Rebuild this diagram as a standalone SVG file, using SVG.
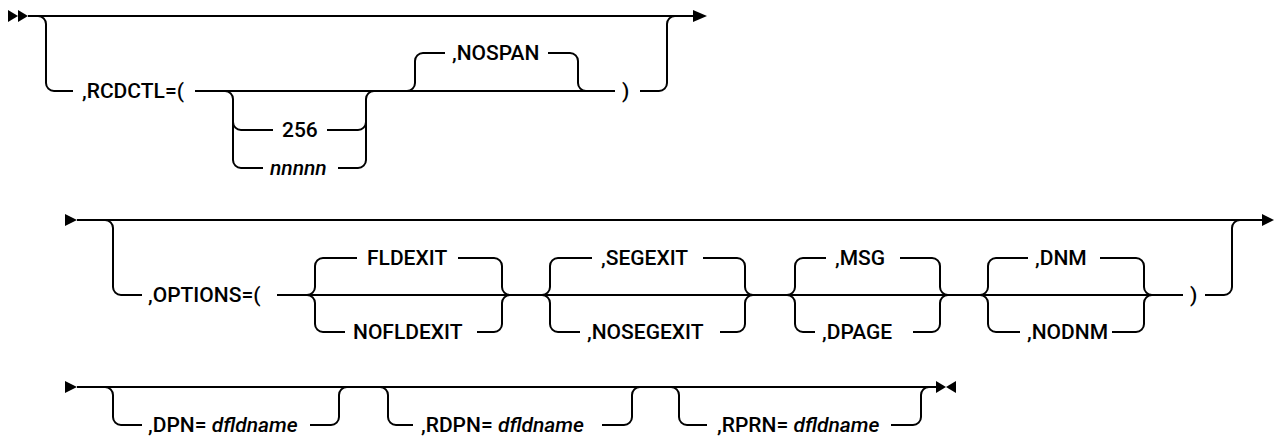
<svg xmlns="http://www.w3.org/2000/svg" width="1279" height="441" viewBox="0 0 1279 441">
<style>
.t{font-family:Roboto,"Liberation Sans",Arial,sans-serif;font-size:21px;font-weight:500;fill:#000}
.i{font-style:italic}
.ln{fill:none;stroke:#000;stroke-width:2}
.ar{fill:#000}
</style>
<rect width="1279" height="441" fill="#fff"/>
<g id="connectors">
<!-- row 1 -->
<path class="ln" d="M28,16 H693"/>
<path class="ln" d="M38,16 a8,8 0 0 1 8,8 V83 a8,8 0 0 0 8,8 H73"/>
<path class="ln" d="M195,91 H615"/>
<path class="ln" d="M225,91 a8,8 0 0 1 8,8 V122 a8,8 0 0 0 8,8 H273"/>
<path class="ln" d="M233,122 V160 a8,8 0 0 0 8,8 H263"/>
<path class="ln" d="M327,130 H358 a8,8 0 0 0 8,-8 V99 a8,8 0 0 1 8,-8"/>
<path class="ln" d="M338,168 H358 a8,8 0 0 0 8,-8 V122"/>
<path class="ln" d="M407,91 a8,8 0 0 0 8,-8 V61 a8,8 0 0 1 8,-8 H445"/>
<path class="ln" d="M548,53 H570 a8,8 0 0 1 8,8 V83 a8,8 0 0 0 8,8"/>
<path class="ln" d="M640,91 H659 a8,8 0 0 0 8,-8 V24 a8,8 0 0 1 8,-8"/>
<!-- row 2 -->
<path class="ln" d="M77,220 H1262"/>
<path class="ln" d="M105,220 a8,8 0 0 1 8,8 V287 a8,8 0 0 0 8,8 H142"/>
<path class="ln" d="M277,295 H1183"/>
<path class="ln" d="M307,295 a8,8 0 0 0 8,-8 V266 a8,8 0 0 1 8,-8 H357"/>
<path class="ln" d="M458,258 H494 a8,8 0 0 1 8,8 V287 a8,8 0 0 0 8,8"/>
<path class="ln" d="M307,295 a8,8 0 0 1 8,8 V324 a8,8 0 0 0 8,8 H345"/>
<path class="ln" d="M477,332 H494 a8,8 0 0 0 8,-8 V303 a8,8 0 0 1 8,-8"/>
<path class="ln" d="M542,295 a8,8 0 0 0 8,-8 V266 a8,8 0 0 1 8,-8 H592"/>
<path class="ln" d="M703,258 H737 a8,8 0 0 1 8,8 V287 a8,8 0 0 0 8,8"/>
<path class="ln" d="M542,295 a8,8 0 0 1 8,8 V324 a8,8 0 0 0 8,8 H580"/>
<path class="ln" d="M720,332 H737 a8,8 0 0 0 8,-8 V303 a8,8 0 0 1 8,-8"/>
<path class="ln" d="M787,295 a8,8 0 0 0 8,-8 V266 a8,8 0 0 1 8,-8 H826"/>
<path class="ln" d="M900,258 H932 a8,8 0 0 1 8,8 V287 a8,8 0 0 0 8,8"/>
<path class="ln" d="M787,295 a8,8 0 0 1 8,8 V324 a8,8 0 0 0 8,8 H815"/>
<path class="ln" d="M913,332 H932 a8,8 0 0 0 8,-8 V303 a8,8 0 0 1 8,-8"/>
<path class="ln" d="M980,295 a8,8 0 0 0 8,-8 V266 a8,8 0 0 1 8,-8 H1028"/>
<path class="ln" d="M1100,258 H1136 a8,8 0 0 1 8,8 V287 a8,8 0 0 0 8,8"/>
<path class="ln" d="M980,295 a8,8 0 0 1 8,8 V324 a8,8 0 0 0 8,8 H1020"/>
<path class="ln" d="M1112,332 H1136 a8,8 0 0 0 8,-8 V303 a8,8 0 0 1 8,-8"/>
<path class="ln" d="M1205,295 H1224 a8,8 0 0 0 8,-8 V228 a8,8 0 0 1 8,-8"/>
<!-- row 3 -->
<path class="ln" d="M77,387 H936"/>
<path class="ln" d="M105,387 a8,8 0 0 1 8,8 V417 a8,8 0 0 0 8,8 H142"/>
<path class="ln" d="M310,425 H331 a8,8 0 0 0 8,-8 V395 a8,8 0 0 1 8,-8"/>
<path class="ln" d="M380,387 a8,8 0 0 1 8,8 V417 a8,8 0 0 0 8,8 H413"/>
<path class="ln" d="M602,425 H624 a8,8 0 0 0 8,-8 V395 a8,8 0 0 1 8,-8"/>
<path class="ln" d="M671,387 a8,8 0 0 1 8,8 V417 a8,8 0 0 0 8,8 H707"/>
<path class="ln" d="M891,425 H913 a8,8 0 0 0 8,-8 V395 a8,8 0 0 1 8,-8"/>
<!-- markers -->
<polygon class="ar" points="8,10 18,16 8,22"/>
<polygon class="ar" points="18,10 28,16 18,22"/>
<polygon class="ar" points="693,10 707,16 693,22"/>
<polygon class="ar" points="65,214 77,220 65,226"/>
<polygon class="ar" points="1262,214 1274,220 1262,226"/>
<polygon class="ar" points="65,381 77,387 65,393"/>
<polygon class="ar" points="936,381 946,387 936,393"/>
<polygon class="ar" points="956,381 946,387 956,393"/>
</g>
<g id="rcdctl"><text class="t" x="82" y="98">,RCDCTL=(</text></g>
<g id="v256"><text class="t" x="282" y="137">256</text></g>
<g id="vnnnnn"><text class="t i" x="270" y="175">nnnnn</text></g>
<g id="nospan"><text class="t" x="452" y="60">,NOSPAN</text></g>
<g id="rparen1"><text class="t" x="622" y="98">)</text></g>
<g id="options"><text class="t" x="148" y="302">,OPTIONS=(</text></g>
<g id="fldexit"><text class="t" x="367" y="265">FLDEXIT</text></g>
<g id="nofldexit"><text class="t" x="353" y="339">NOFLDEXIT</text></g>
<g id="segexit"><text class="t" x="601" y="265">,SEGEXIT</text></g>
<g id="nosegexit"><text class="t" x="587" y="339">,NOSEGEXIT</text></g>
<g id="msg"><text class="t" x="835" y="265">,MSG</text></g>
<g id="dpage"><text class="t" x="822" y="339">,DPAGE</text></g>
<g id="dnm"><text class="t" x="1035" y="265">,DNM</text></g>
<g id="nodnm"><text class="t" x="1027" y="339">,NODNM</text></g>
<g id="rparen2"><text class="t" x="1190" y="302">)</text></g>
<g id="dpn"><text class="t" x="148" y="432">,DPN= <tspan class="i">dfldname</tspan></text></g>
<g id="rdpn"><text class="t" x="421" y="432">,RDPN= <tspan class="i">dfldname</tspan></text></g>
<g id="rprn"><text class="t" x="717" y="432">,RPRN= <tspan class="i">dfldname</tspan></text></g>
</svg>
